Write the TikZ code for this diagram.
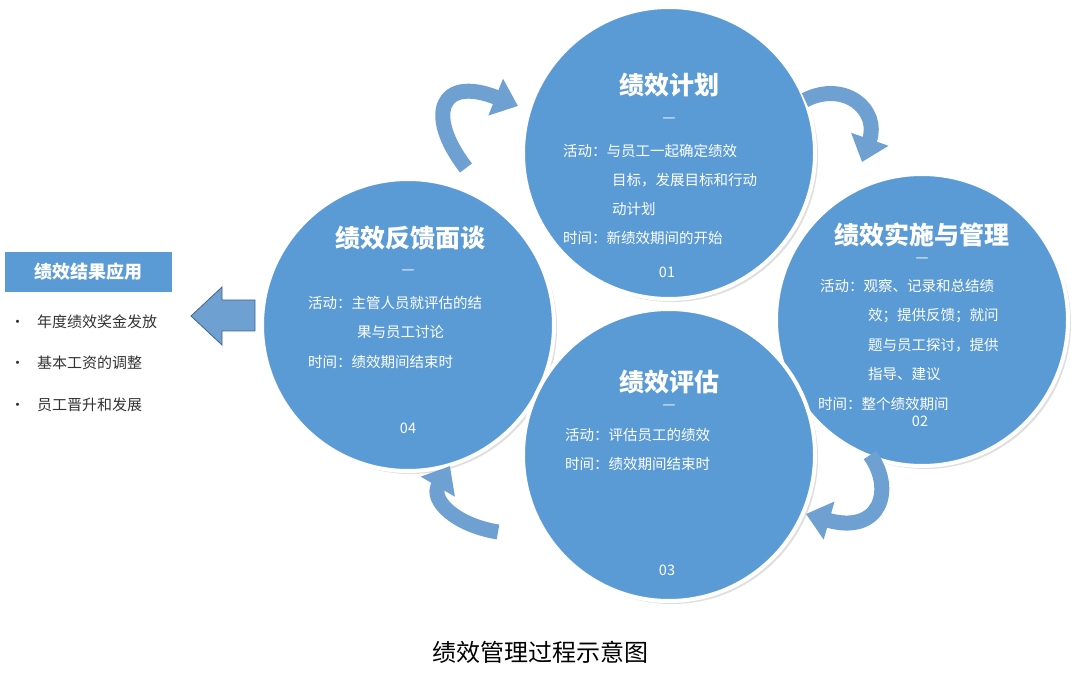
\documentclass[tikz,border=0pt]{standalone}
\usepackage{fontspec}
\setmainfont{Noto Sans CJK SC}
\usetikzlibrary{arrows.meta,shadows}
\definecolor{cblue}{RGB}{91,155,213}
\definecolor{ablue}{RGB}{110,160,210}
\definecolor{aedge}{RGB}{70,100,140}
\begin{document}
\begin{tikzpicture}[x=1pt,y=-1pt,
  circ/.style={circle,fill=cblue,draw=white,line width=4pt,minimum size=292pt,drop shadow={opacity=0.25,shadow xshift=3pt,shadow yshift=-3pt}},
  ttl/.style={text=white,font=\bfseries\fontsize{25}{28}\selectfont},
  txt/.style={text=white,font=\fontsize{14.5}{17}\selectfont,anchor=west,inner sep=0},
  ctr/.style={text=white,font=\fontsize{14.5}{17}\selectfont,inner sep=0},
  carrow/.style={draw=ablue,line width=15pt,-{Triangle[length=24pt,width=38pt]}},
  bul/.style={text=black!80,font=\fontsize{15}{18}\selectfont,anchor=west,inner sep=0}]
\useasboundingbox[fill=white] (0,0) rectangle (1080,679);
\node[circ] (c4) at (408,325) {};
\node[circ] (c2) at (922,320) {};
\node[circ] (c3) at (669,455) {};
\node[circ] (c1) at (669,153) {};
% top
\node[ttl] (t1) at (669,85) {绩效计划};
\node[ctr] (d1) at (669,120) {—};
\node[txt] (a1) at (563,151) {活动：与员工一起确定绩效};
\node[txt] (a1b) at (612,180) {目标，发展目标和行动};
\node[txt] (a1c) at (612,209) {动计划};
\node[txt] (a1d) at (563,238) {时间：新绩效期间的开始};
\node[ctr] (n1) at (667,272) {01};
% right
\node[ttl] (t2) at (922,235) {绩效实施与管理};
\node[ctr] (d2) at (922,260) {—};
\node[txt] (a2) at (820,286) {活动：观察、记录和总结绩};
\node[txt] (a2b) at (868,316) {效；提供反馈；就问};
\node[txt] (a2c) at (868,345) {题与员工探讨，提供};
\node[txt] (a2d) at (868,374) {指导、建议};
\node[txt] (a2e) at (818,404) {时间：整个绩效期间};
\node[ctr] (n2) at (920,421) {02};
% left
\node[ttl] (t4) at (410,238) {绩效反馈面谈};
\node[ctr] (d4) at (408,272) {—};
\node[txt] (a4) at (308,303) {活动：主管人员就评估的结};
\node[txt] (a4b) at (357,332) {果与员工讨论};
\node[txt] (a4c) at (308,362) {时间：绩效期间结束时};
\node[ctr] (n4) at (408,428) {04};
% bottom
\node[ttl] (t3) at (669,382) {绩效评估};
\node[ctr] (d3) at (669,407) {—};
\node[txt] (a3) at (565,435) {活动：评估员工的绩效};
\node[txt] (a3b) at (565,464) {时间：绩效期间结束时};
\node[ctr] (n3) at (667,570) {03};
% curved arrows
\coordinate (p1s) at (466,168); \coordinate (p1e) at (518,106);
\draw[carrow] (p1s) .. controls (425,115) and (440,75) .. (p1e);
\coordinate (p2s) at (805,100); \coordinate (p2e) at (862,162);
\draw[carrow] (p2s) .. controls (845,80) and (880,110) .. (p2e);
\coordinate (p3s) at (870,455); \coordinate (p3e) at (806,514);
\draw[carrow] (p3s) .. controls (895,490) and (880,535) .. (p3e);
\coordinate (p4s) at (498,532); \coordinate (p4e) at (450,466);
\draw[carrow] (p4s) .. controls (455,525) and (430,500) .. (p4e);
% left panel
\node[fill=cblue,minimum width=167pt,minimum height=40pt,text=white,font=\bfseries\fontsize{18}{20}\selectfont] (box) at (88.5,272) {绩效结果应用};
\node[bul] (b1) at (10,322) {•\hspace{12pt}年度绩效奖金发放};
\node[bul] (b2) at (10,363) {•\hspace{12pt}基本工资的调整};
\node[bul] (b3) at (10,405) {•\hspace{12pt}员工晋升和发展};
\draw[fill=ablue,draw=aedge,line width=0.8pt] (255,300) -- (222,300) -- (222,287) -- (191,316) -- (222,345) -- (222,331) -- (255,331) -- cycle;
\node[font=\fontsize{24}{28}\selectfont] (cap) at (540,652) {绩效管理过程示意图};
\end{tikzpicture}
\end{document}
